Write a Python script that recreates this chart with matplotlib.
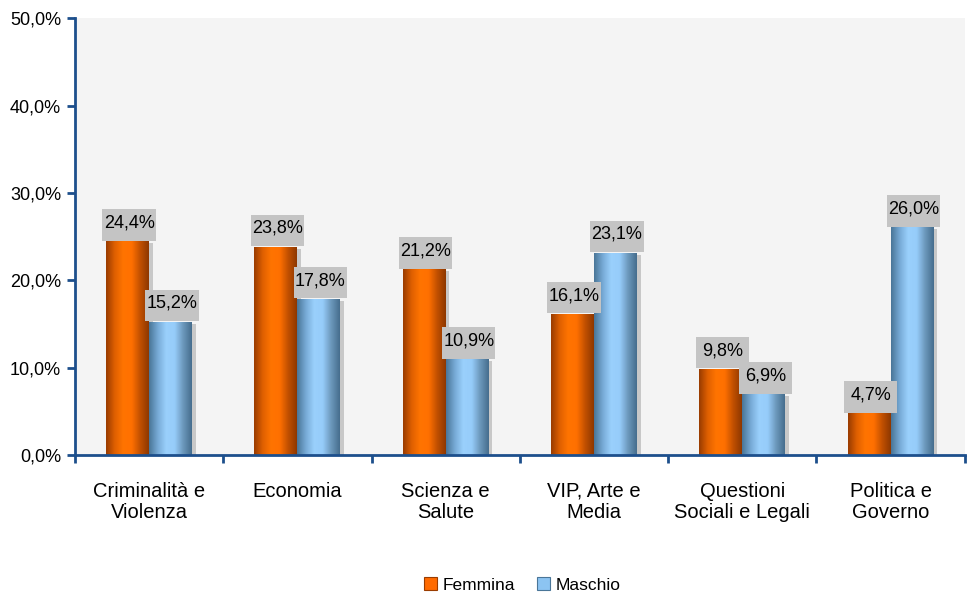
import numpy as np
import matplotlib.pyplot as plt
from matplotlib.colors import LinearSegmentedColormap
from matplotlib.patches import Rectangle

categories = ['Criminalità e\nViolenza', 'Economia', 'Scienza e\nSalute',
              'VIP, Arte e\nMedia', 'Questioni\nSociali e Legali', 'Politica e\nGoverno']
femmina = [24.4, 23.8, 21.2, 16.1, 9.8, 4.7]
maschio = [15.2, 17.8, 10.9, 23.1, 6.9, 26.0]
yticks = [0, 10, 20, 30, 40, 50]

plt.rcParams['font.family'] = ['Liberation Sans', 'DejaVu Sans']

orange = LinearSegmentedColormap.from_list(
    'orange', ['#9a3c00', '#e06000', '#ff7400', '#ff7000', '#c25000', '#8f3800'])
blue = LinearSegmentedColormap.from_list(
    'blue', ['#4a7698', '#77aad6', '#9ad0fc', '#96ccfa', '#6c98bc', '#466e8e'])
grad = np.linspace(0, 1, 64).reshape(1, -1)

fig = plt.figure(figsize=(9.67, 5.95), dpi=100)
ax = fig.add_axes([0.0776, 0.235, 0.92, 0.734])
ax.set_facecolor('#f4f4f4')

width = 0.29
box_w, box_h = 0.36, 3.6
spine = '#1d4f8c'


def gradient_bar(x0, h, cmap):
    # soft shadow on the right side
    ax.add_patch(Rectangle((x0 + 0.025, 0), width, h - 0.15, fc='#c8c8c8',
                           ec='none', zorder=1))
    ax.imshow(grad, cmap=cmap, aspect='auto', extent=(x0, x0 + width, 0, h),
              zorder=2, interpolation='bicubic')


def value_label(x, v):
    txt = f'{v:.1f}%'.replace('.', ',')
    ax.add_patch(Rectangle((x - box_w / 2, v + 0.15), box_w, box_h,
                           fc='#c4c4c4', ec='none', zorder=3))
    ax.text(x, v + 0.15 + box_h * 0.56, txt, ha='center', va='center',
            fontsize=13, zorder=4)


for i, (f, m) in enumerate(zip(femmina, maschio)):
    gradient_bar(i - width, f, orange)
    gradient_bar(i, m, blue)
    value_label(i - width / 2 + 0.01, f)
    value_label(i + width / 2 + 0.01, m)

ax.set_xlim(-0.5, len(categories) - 0.5)
ax.set_ylim(0, 50)
ax.set_yticks(yticks)
ax.set_yticklabels([f'{t:.1f}%'.replace('.', ',') for t in yticks], fontsize=13)
ax.set_xticks(np.arange(len(categories) + 1) - 0.5)
ax.set_xticklabels([])
ax.set_xticks(np.arange(len(categories)), minor=True)
ax.set_xticklabels(categories, minor=True, fontsize=14.5, linespacing=1.15)
ax.tick_params(axis='x', which='minor', length=0, pad=19)
ax.tick_params(axis='x', which='major', length=6, width=2, color=spine)
ax.tick_params(axis='y', length=6, width=2, color=spine, pad=4)

for s in ['top', 'right']:
    ax.spines[s].set_visible(False)
for s in ['left', 'bottom']:
    ax.spines[s].set_color(spine)
    ax.spines[s].set_linewidth(2)

handles = [Rectangle((0, 0), 1, 1, fc='#ff6a00', ec='#9a3c00', lw=0.8),
           Rectangle((0, 0), 1, 1, fc='#8cc4f2', ec='#4a7698', lw=0.8)]
fig.legend(handles, ['Femmina', 'Maschio'], loc='center', bbox_to_anchor=(0.54, 0.017),
           ncol=2, frameon=False, fontsize=12.5, handlelength=0.75, handleheight=0.75,
           handletextpad=0.3, columnspacing=1.3)

fig.savefig('out.png', dpi=100, facecolor='white')
